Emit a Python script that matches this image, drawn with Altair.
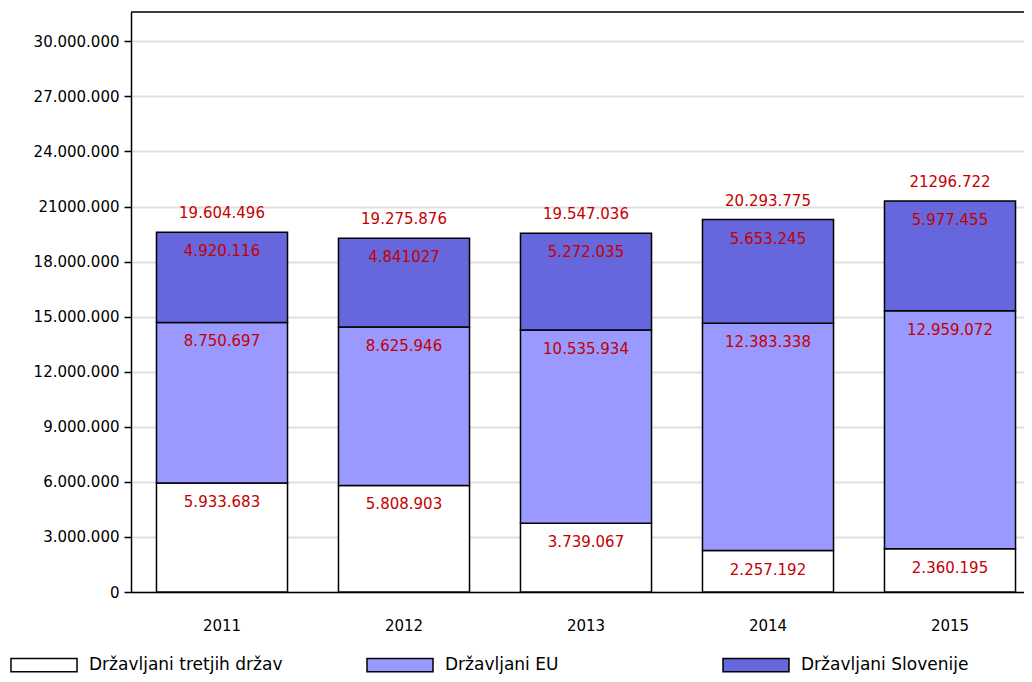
import altair as alt
import pandas as pd

years = ["2011", "2012", "2013", "2014", "2015"]
series = ["Državljani tretjih držav", "Državljani EU", "Državljani Slovenije"]
colors = ["#ffffff", "#9999ff", "#6666dd"]

third = [5933683, 5808903, 3739067, 2257192, 2360195]
eu = [8750697, 8625946, 10535934, 12383338, 12959072]
slo = [4920116, 4841027, 5272035, 5653245, 5977455]

third_lbl = ["5.933.683", "5.808.903", "3.739.067", "2.257.192", "2.360.195"]
eu_lbl = ["8.750.697", "8.625.946", "10.535.934", "12.383.338", "12.959.072"]
slo_lbl = ["4.920.116", "4.841027", "5.272.035", "5.653.245", "5.977.455"]
total_lbl = ["19.604.496", "19.275.876", "19.547.036", "20.293.775", "21296.722"]

y_ticks = [0, 3000000, 6000000, 9000000, 12000000, 15000000, 18000000,
           21000000, 24000000, 27000000, 30000000]
y_tick_labels = ["0", "3.000.000", "6.000.000", "9.000.000", "12.000.000",
                 "15.000.000", "18.000.000", "21000.000", "24.000.000",
                 "27.000.000", "30.000.000"]
y_max = 31600000

rows = []
for i, yr in enumerate(years):
    for k, (vals, lbls) in enumerate([(third, third_lbl), (eu, eu_lbl), (slo, slo_lbl)]):
        rows.append({"year": yr, "series": series[k], "ord": k,
                     "value": vals[i], "label": lbls[i]})
df = pd.DataFrame(rows)
tot = pd.DataFrame({"year": years,
                    "total": [a + b + c for a, b, c in zip(third, eu, slo)],
                    "label": total_lbl})

W = 893
H = 580
FONT = "DejaVu Sans"
RED = "#c40000"

label_expr = "[" + ",".join("'%s'" % s for s in y_tick_labels) + "][round(datum.value/3000000)]"

xenc = alt.X("year:N",
             scale=alt.Scale(range=[0, 910], paddingInner=0.28, paddingOuter=0.14),
             axis=alt.Axis(title=None, labelAngle=0, ticks=False, labelPadding=26,
                           domainColor="black", domainWidth=1.5, labelFontSize=15,
                           labelColor="black", grid=False, labelFont=FONT))
yscale = alt.Scale(domain=[0, y_max], nice=False, zero=True)

bars = alt.Chart(df).mark_bar(stroke="black", strokeWidth=1.5).encode(
    x=xenc,
    y=alt.Y("value:Q", stack="zero", scale=yscale,
            axis=alt.Axis(title=None, values=y_ticks, labelExpr=label_expr,
                          domainColor="black", domainWidth=1.5,
                          tickColor="black", tickWidth=1.5, tickSize=7,
                          gridColor="#e0e0e0", gridWidth=2,
                          labelFontSize=15, labelColor="black", labelPadding=5,
                          labelFont=FONT)),
    color=alt.Color("series:N", scale=alt.Scale(domain=series, range=colors),
                    legend=alt.Legend(title=None, orient="none", legendX=-121,
                                      legendY=619, direction="horizontal",
                                      gridAlign="all", columnPadding=81,
                                      symbolType="M-1,-0.2H1V0.2H-1Z",
                                      symbolSize=4356, symbolStrokeColor="black",
                                      symbolStrokeWidth=1.5, labelFontSize=17,
                                      labelOffset=11, labelColor="black",
                                      labelLimit=400, labelFont=FONT)),
    order=alt.Order("ord:Q", sort="ascending"),
)

seg_text = alt.Chart(df).transform_stack(
    stack="value", groupby=["year"], as_=["v0", "v1"],
    sort=[alt.SortField("ord", order="ascending")]
).mark_text(dy=19, color=RED, fontSize=15, font=FONT).encode(
    x=alt.X("year:N"),
    y=alt.Y("v1:Q", scale=yscale),
    text="label:N",
)

tot_text = alt.Chart(tot).mark_text(dy=-19, color=RED, fontSize=15, font=FONT).encode(
    x=alt.X("year:N"),
    y=alt.Y("total:Q", scale=yscale),
    text="label:N",
)

top_border = alt.Chart(pd.DataFrame({"a": [0]})).mark_rule(
    color="black", strokeWidth=1.5).encode(
    y=alt.value(0), x=alt.value(0), x2=alt.value(W))

chart = alt.layer(bars, seg_text, tot_text, top_border).properties(
    width=W, height=H,
    autosize=alt.AutoSizeParams(type="none"),
    padding={"left": 123, "top": 4, "right": 0, "bottom": 82},
).configure_view(stroke=None).configure(font=FONT)

chart.save("out.html", embed_options={"renderer": "svg", "actions": False})
